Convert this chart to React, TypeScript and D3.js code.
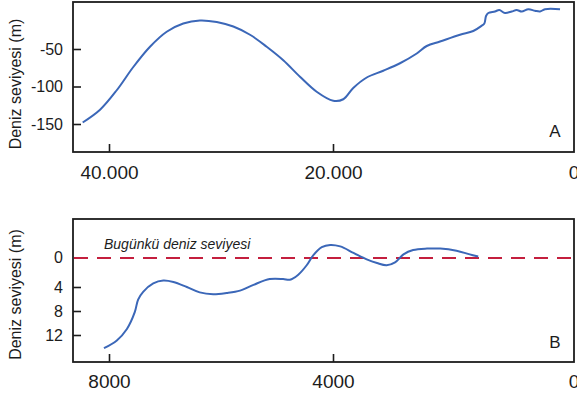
import React, { useEffect, useRef } from "react";
import * as d3 from "d3";

// panel A: last ~42 ka (years BP, metres)
const ageA = [42350, 40800, 39310, 37830, 36340, 34850, 33370, 31880, 30380, 28900, 27410, 25920, 24440, 22950, 21460, 19980, 19150, 18320, 17200, 15830, 14440, 13050, 12220, 11120, 9460, 8360, 7660, 7440, 7300, 7110, 6560, 6200, 5730, 5170, 4760, 4340, 3790, 3240, 2820, 2410, 1160];
const levelA = [-148, -131, -105, -74, -47, -27, -16, -12, -14, -20, -31, -47, -65, -87, -107, -119, -117, -102, -88, -79, -69, -56, -46, -40, -31, -26, -19, -16, -6, -2, 0, 2, -2, 0, 2, 0, 3, 1, 0, 3, 3];

// panel B: last 8 ka, depth below present level (m)
const ageB = [8090, 7860, 7680, 7540, 7480, 7390, 7210, 7030, 6850, 6610, 6380, 6140, 5900, 5660, 5420, 5130, 4890, 4770, 4620, 4470, 4350, 4200, 4050, 3880, 3660, 3440, 3270, 3110, 2970, 2830, 2670, 2440, 2220, 1950, 1730, 1590];
const depthB = [14.2, 12.9, 11.0, 8.2, 6.1, 4.8, 3.5, 3.1, 3.3, 4.0, 4.9, 5.2, 5.0, 4.6, 3.7, 2.9, 2.9, 3.0, 2.3, 1.0, -0.4, -1.5, -1.8, -1.6, -0.7, 0.2, 0.7, 1.0, 0.6, -0.5, -1.1, -1.3, -1.3, -1.0, -0.5, -0.2];

const ticksXA = [40000, 20000, 0];
const ticksYA = [-50, -100, -150];
const ticksXB = [8000, 4000, 0];
const ticksYB = [4, 8, 12];
const presentLevel = 0;

const yLabel = "Deniz seviyesi (m)";
const legendText = "Bugünkü deniz seviyesi";

const width = 577;
const height = 400;
const left = 73;
const right = 574;
const boxA = { top: 2, bottom: 152 };
const boxB = { top: 219, bottom: 362 };

const font = "'Liberation Sans', Arial, Helvetica, sans-serif";
const blue = "#3b67b8";
const red = "#c41f3e";
const ink = "#1c1c1c";

const dotLocale = d3.formatLocale({ decimal: ",", thousands: ".", grouping: [3], currency: ["", ""] });
const fmtDot = dotLocale.format(",");

const xA = d3.scaleLinear().domain([40000, 20000, 0]).range([109, 333, right]);
const yA = d3.scaleLinear().domain([0, -150]).range([11.5, 124]);
const xB = d3.scaleLinear().domain([8000, 4000, 0]).range([109, 333, right]);
const yB = d3.scaleLinear().domain([0, 4, 8, 12]).range([258, 287, 311, 335]);

export default function App() {
  const axA = useRef<SVGGElement>(null);
  const ayA = useRef<SVGGElement>(null);
  const axB = useRef<SVGGElement>(null);
  const ayB = useRef<SVGGElement>(null);

  useEffect(() => {
    const styleAxis = (g: any, size: number) => {
      g.select(".domain").remove();
      g.selectAll("line").attr("stroke", ink).attr("stroke-width", 1.6);
      g.selectAll("text").attr("fill", ink).attr("font-size", size).attr("font-family", font);
    };

    d3.select(axA.current)
      .call(d3.axisBottom(xA).tickValues(ticksXA.slice(0, 2)).tickSize(-8).tickFormat(d => fmtDot(+d)) as any)
      .call(g => styleAxis(g, 19))
      .call(g => g.selectAll("text").attr("y", 27).attr("dy", 0));
    d3.select(ayA.current)
      .call(d3.axisLeft(yA).tickValues(ticksYA).tickSize(-8).tickPadding(10).tickFormat(d => String(d)) as any)
      .call(g => styleAxis(g, 16));
    d3.select(axB.current)
      .call(d3.axisBottom(xB).tickValues(ticksXB.slice(0, 2)).tickSize(-8).tickFormat(d => String(d)) as any)
      .call(g => styleAxis(g, 19))
      .call(g => g.selectAll("text").attr("y", 26).attr("dy", 0));
    d3.select(ayB.current)
      .call(d3.axisLeft(yB).tickValues(ticksYB).tickSize(-8).tickPadding(10).tickFormat(d => String(d)) as any)
      .call(g => styleAxis(g, 16));
  }, []);

  const lineA = d3.line<number>().x((_, i) => xA(ageA[i])).y(d => yA(d)).curve(d3.curveCatmullRom.alpha(0.5));
  const lineB = d3.line<number>().x((_, i) => xB(ageB[i])).y(d => yB(d)).curve(d3.curveCatmullRom.alpha(0.5));

  return (
    <svg width={width} height={height} style={{ position: "absolute", left: 0, top: 0, background: "#fff" }} fontFamily={font}>
      {/* panel A */}
      <rect x={left} y={boxA.top} width={right - left} height={boxA.bottom - boxA.top} fill="none" stroke={ink} strokeWidth={1.8} />
      <g ref={axA} transform={`translate(0,${boxA.bottom})`} />
      <g ref={ayA} transform={`translate(${left},0)`} />
      <text x={xA(0)} y={179} fontSize={19} fill={ink} textAnchor="middle">{fmtDot(ticksXA[2])}</text>
      <path d={lineA(levelA) || ""} fill="none" stroke={blue} strokeWidth={2} />
      <text x={555} y={137} fontSize={17} fill={ink} textAnchor="middle">A</text>
      <text transform={`translate(21,${(boxA.top + boxA.bottom) / 2 + 7}) rotate(-90)`} fontSize={16} fill={ink} textAnchor="middle">{yLabel}</text>

      {/* panel B */}
      <rect x={left} y={boxB.top} width={right - left} height={boxB.bottom - boxB.top} fill="none" stroke={ink} strokeWidth={1.8} />
      <g ref={axB} transform={`translate(0,${boxB.bottom})`} />
      <g ref={ayB} transform={`translate(${left},0)`} />
      <text x={xB(0)} y={388} fontSize={19} fill={ink} textAnchor="middle">{ticksXB[2]}</text>
      <text x={left - 10} y={yB(presentLevel)} dy="0.32em" fontSize={16} fill={ink} textAnchor="end">{presentLevel}</text>
      <line x1={left + 1} x2={width} y1={yB(presentLevel)} y2={yB(presentLevel)} stroke={red} strokeWidth={2} strokeDasharray="14 9" />
      <path d={lineB(depthB) || ""} fill="none" stroke={blue} strokeWidth={2} />
      <text x={104} y={249} fontSize={14} fontStyle="italic" fill={ink}>{legendText}</text>
      <text x={555} y={348} fontSize={17} fill={ink} textAnchor="middle">B</text>
      <text transform={`translate(21,${(boxB.top + boxB.bottom) / 2 + 4}) rotate(-90)`} fontSize={16} fill={ink} textAnchor="middle">{yLabel}</text>
    </svg>
  );
}
